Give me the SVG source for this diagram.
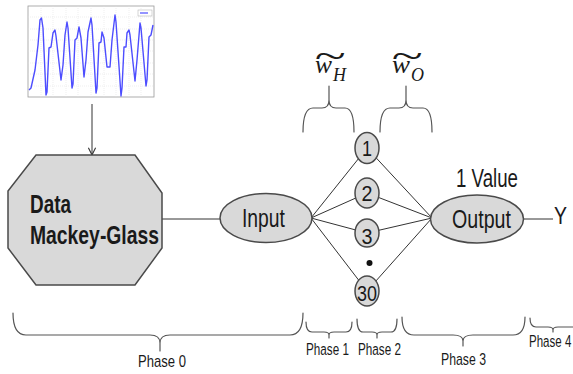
<svg xmlns="http://www.w3.org/2000/svg" width="573" height="374" viewBox="0 0 573 374">
<defs>
<style>
.t{font-family:"Liberation Sans",Arial,sans-serif;fill:#1a1a1a}
.node{fill:#d9d9d9;stroke:#4a4a4a;stroke-width:1.5}
.edge{stroke:#333;stroke-width:1;fill:none}
.brace{stroke:#555;stroke-width:1.2;fill:none;stroke-linecap:round}
.ph{font-size:17px}
.m{font-family:"Liberation Serif","DejaVu Serif",serif;font-style:italic;fill:#1a1a1a}
</style>
<marker id="arr" viewBox="0 0 10 10" refX="9" refY="5" markerWidth="9" markerHeight="9" orient="auto" markerUnits="userSpaceOnUse">
<path d="M1,1 L9,5 L1,9" fill="none" stroke="#333" stroke-width="1.2"/>
</marker>
</defs>
<rect width="573" height="374" fill="#fff"/>

<g id="chart">
<rect x="18" y="2" width="150" height="104" fill="#fff"/>
<rect x="28" y="6" width="126" height="91" fill="#fff" stroke="#999" stroke-width="0.8"/>
<g stroke="#ddd" stroke-width="0.5" stroke-dasharray="1,1">
<line x1="28" y1="17" x2="154" y2="17"/><line x1="28" y1="29" x2="154" y2="29"/><line x1="28" y1="40" x2="154" y2="40"/><line x1="28" y1="51" x2="154" y2="51"/><line x1="28" y1="63" x2="154" y2="63"/><line x1="28" y1="74" x2="154" y2="74"/><line x1="28" y1="86" x2="154" y2="86"/>
<line x1="41" y1="6" x2="41" y2="97"/><line x1="53" y1="6" x2="53" y2="97"/><line x1="66" y1="6" x2="66" y2="97"/><line x1="78" y1="6" x2="78" y2="97"/><line x1="91" y1="6" x2="91" y2="97"/><line x1="104" y1="6" x2="104" y2="97"/><line x1="116" y1="6" x2="116" y2="97"/><line x1="129" y1="6" x2="129" y2="97"/><line x1="141" y1="6" x2="141" y2="97"/>
</g>
<rect x="138" y="10" width="14" height="6" fill="#fff" stroke="#aaa" stroke-width="0.5"/>
<line x1="140" y1="13" x2="148" y2="13" stroke="#4d4dff" stroke-width="1.2"/>
<polyline fill="none" stroke="#4d4dff" stroke-width="1.4" stroke-linejoin="round" points="29,90 31,88 35,70 38,45 40,20 41.5,18 43,28 46,95 47,92 49,48 51,47 53,33 55,30 56,36 61,80 63,65 65,35 67,22 68,28 72,88 73,84 75,40 77,38 79,27 81,38 84,77 86,60 88,32 91,18 92,25 96,93 97,88 99,43 101,42 102,32 104,38 107,67 110,67 112,40 115,15 116,22 121,96 122,88 124,47 126,47 127,33 129,30 130,35 135,81 137,60 140,23 141,28 146,86 147,80 149,37 151,35 153,25"/>
</g>

<g id="connectors">
<line class="edge" x1="92" y1="104" x2="92" y2="155" marker-end="url(#arr)"/>
<line class="edge" x1="162" y1="219" x2="220" y2="219"/>
<line class="edge" x1="311" y1="218" x2="367" y2="148"/>
<line class="edge" x1="311" y1="218" x2="367" y2="193"/>
<line class="edge" x1="311" y1="218" x2="367" y2="233"/>
<line class="edge" x1="311" y1="218" x2="367" y2="291"/>
<line class="edge" x1="432" y1="218" x2="367" y2="148"/>
<line class="edge" x1="432" y1="218" x2="367" y2="193"/>
<line class="edge" x1="432" y1="218" x2="367" y2="233"/>
<line class="edge" x1="432" y1="218" x2="367" y2="291"/>
<line class="edge" x1="523" y1="219" x2="553" y2="219"/>
</g>

<g id="node-data">
<polygon class="node" points="36,155 135,155 162,193 162,248 135,285 36,285 8,248 8,191"/>
<text class="t" x="30" y="213" font-size="25" font-weight="bold" textLength="41" lengthAdjust="spacingAndGlyphs">Data</text>
<text class="t" x="30" y="244" font-size="25" font-weight="bold" textLength="129" lengthAdjust="spacingAndGlyphs">Mackey-Glass</text>
</g>

<g id="node-input">
<ellipse class="node" cx="266" cy="218" rx="46" ry="24.5"/>
<text class="t" x="242" y="227" font-size="25" textLength="43" lengthAdjust="spacingAndGlyphs">Input</text>
</g>

<g id="node-h1">
<ellipse class="node" cx="367" cy="148" rx="12" ry="15.5"/>
<text class="t" x="367" y="156" font-size="22" text-anchor="middle" textLength="10" lengthAdjust="spacingAndGlyphs">1</text>
</g>
<g id="node-h2">
<ellipse class="node" cx="367" cy="193" rx="12" ry="15"/>
<text class="t" x="367" y="201" font-size="22" text-anchor="middle" textLength="11" lengthAdjust="spacingAndGlyphs">2</text>
</g>
<g id="node-h3">
<ellipse class="node" cx="367" cy="233" rx="12" ry="14"/>
<text class="t" x="367" y="244" font-size="22" text-anchor="middle" textLength="11" lengthAdjust="spacingAndGlyphs">3</text>
</g>
<g id="node-dots">
<circle cx="369.5" cy="263" r="3" fill="#111"/>
</g>
<g id="node-h30">
<ellipse class="node" cx="367" cy="291" rx="12" ry="15"/>
<text class="t" x="367" y="301" font-size="22" text-anchor="middle" textLength="20" lengthAdjust="spacingAndGlyphs">30</text>
</g>

<g id="node-output">
<ellipse class="node" cx="477" cy="219" rx="46.5" ry="24"/>
<text class="t" x="452" y="228" font-size="25" textLength="59" lengthAdjust="spacingAndGlyphs">Output</text>
<text class="t" x="456" y="187" font-size="25" textLength="62" lengthAdjust="spacingAndGlyphs">1 Value</text>
</g>

<g id="node-y">
<text class="t" x="554" y="224" font-size="23" textLength="13" lengthAdjust="spacingAndGlyphs">Y</text>
</g>

<g id="weights">
<path class="brace" d="M303,132 Q303,108 313,108 L322,108 Q329,108 329,100 L329,86 M329,100 Q329,108 336,108 L345,108 Q354,108 354,132"/>
<path class="brace" d="M380,132 Q380,108 390,108 L399,108 Q406,108 406,100 L406,86 M406,100 Q406,108 413,108 L423,108 Q432,108 432,132"/>
<text class="m" x="315" y="73" font-size="25" textLength="17" lengthAdjust="spacingAndGlyphs">w</text>
<text class="m" x="333" y="81" font-size="18">H</text>
<text class="m" x="314" y="68" font-size="36" textLength="31" lengthAdjust="spacingAndGlyphs">~</text>
<text class="m" x="392" y="73" font-size="25" textLength="18" lengthAdjust="spacingAndGlyphs">w</text>
<text class="m" x="411" y="81" font-size="18">O</text>
<text class="m" x="391" y="68" font-size="36" textLength="31" lengthAdjust="spacingAndGlyphs">~</text>
</g>

<g id="phases">
<path class="brace" d="M13,313 Q13,335 26,335 L150,335 Q160,335 160,343 L160,351 M160,343 Q160,335 170,335 L290,335 Q303,335 303,313"/>
<path class="brace" d="M306,322 Q306,332 312,332 L324,332 Q329,332 329,335 L329,338 M329,335 Q329,332 334,332 L346,332 Q352,332 352,322"/>
<path class="brace" d="M357,319 Q357,332 363,332 L372,332 Q377,332 377,335 L377,338 M377,335 Q377,332 382,332 L391,332 Q397,332 397,319"/>
<path class="brace" d="M402,317 Q402,335 414,335 L453,335 Q463,335 463,341 L463,346 M463,341 Q463,335 473,335 L513,335 Q525,335 525,317"/>
<path class="brace" d="M530,318 Q530,327 536,327 L548,327 Q553,327 553,330 L553,332 M553,330 Q553,327 558,327 L580,327"/>
<text class="t ph" x="162" y="367" text-anchor="middle" textLength="48" lengthAdjust="spacingAndGlyphs">Phase 0</text>
<text class="t ph" transform="translate(306,355) scale(0.69,1)">Phase 1</text>
<text class="t ph" transform="translate(358,355) scale(0.69,1)">Phase 2</text>
<text class="t ph" x="441" y="365" textLength="45" lengthAdjust="spacingAndGlyphs">Phase 3</text>
<text class="t" font-size="16.5" transform="translate(529,347) scale(0.7,1)">Phase 4</text>
</g>
</svg>
